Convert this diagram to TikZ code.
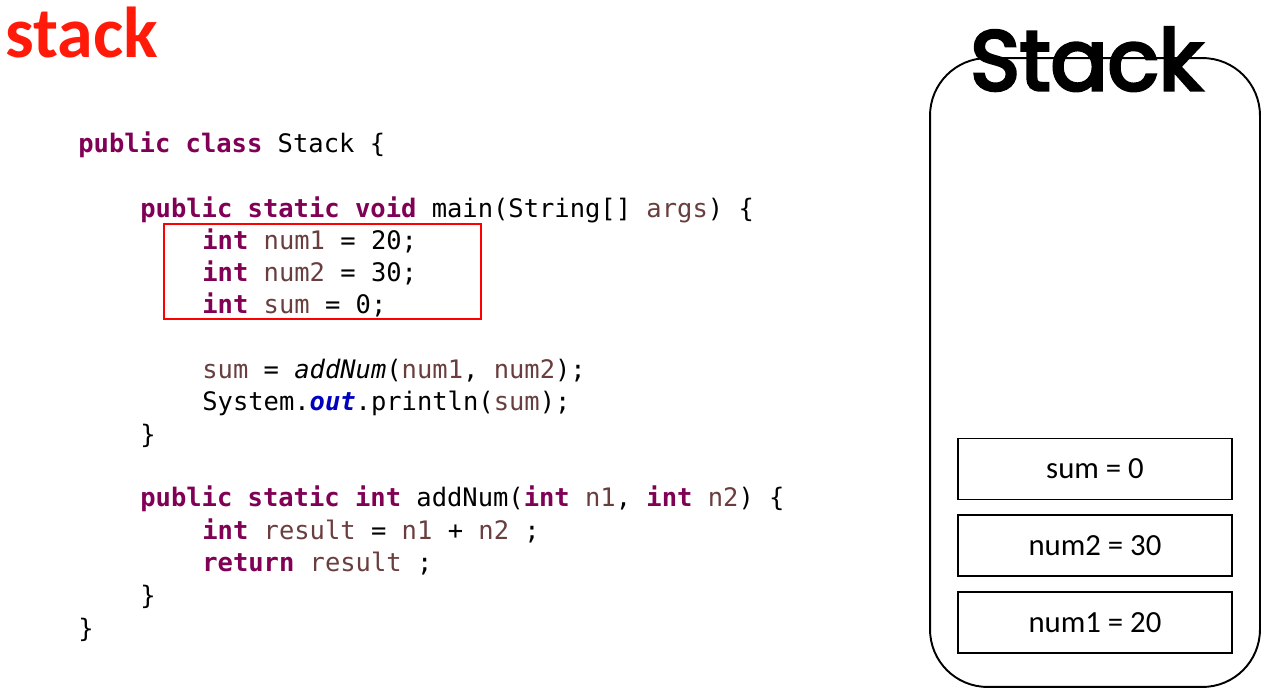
\documentclass[tikz,border=0pt]{standalone}
\usepackage{fontspec}
\setmonofont{DejaVu Sans Mono}
\newfontfamily\slotfont{Carlito}
\newfontfamily\stackfont[FakeBold=4]{Poppins}
\usetikzlibrary{positioning}
\definecolor{kwcolor}{HTML}{7F0055}
\definecolor{varcolor}{HTML}{6A3E3E}
\definecolor{fieldcolor}{HTML}{0000C0}
\definecolor{titlered}{HTML}{FF1A0A}
\newcommand{\kw}[1]{\textcolor{kwcolor}{\textbf{#1}}}
\newcommand{\vr}[1]{\textcolor{varcolor}{#1}}
\newcommand{\fld}[1]{\textcolor{fieldcolor}{\textbf{\textit{#1}}}}
\tikzset{
    stack diagram/.style = {x=0.02cm, y=-0.02cm},
    code line/.style     = {anchor=base west, inner sep=0pt,
                            font=\ttfamily\fontsize{14.5}{17}\selectfont},
    slot/.style          = {draw, line width=1pt, fill=white,
                            minimum width=5.48cm, minimum height=1.22cm,
                            font=\slotfont\fontsize{17.5}{20}\selectfont},
    frame/.style         = {draw, line width=1.1pt, rounded corners=1.15cm,
                            minimum width=6.6cm, minimum height=12.58cm},
    highlight/.style     = {draw=red, line width=1pt,
                            minimum width=6.34cm, minimum height=1.9cm},
    heading/.style       = {anchor=base west, inner sep=0pt}
}

\begin{document}
\begin{tikzpicture}[stack diagram]
\useasboundingbox (0,0) rectangle (1275,694);

\node[heading, text=titlered, font=\slotfont\bfseries\fontsize{41}{45}\selectfont]
    (title) at (5,57) {stack};

% code listing
\node[code line] (cls)     at (78,152)  {\kw{public} \kw{class} Stack \{};
\node[code line] (mainsig) at (140,217) {\kw{public} \kw{static} \kw{void} main(String[] \vr{args}) \{};
\node[code line] (decl1)   at (202,249) {\kw{int} \vr{num1} = 20;};
\node[code line] (decl2)   at (202,281) {\kw{int} \vr{num2} = 30;};
\node[code line] (decl3)   at (202,313) {\kw{int} \vr{sum} = 0;};
\node[code line] (call)    at (202,378) {\vr{sum} = \textit{addNum}(\vr{num1}, \vr{num2});};
\node[code line] (print)   at (202,410) {System.\fld{out}.println(\vr{sum});};
\node[code line] (mainend) at (140,443) {\}};
\node[code line] (addsig)  at (140,506) {\kw{public} \kw{static} \kw{int} addNum(\kw{int} \vr{n1}, \kw{int} \vr{n2}) \{};
\node[code line] (addbody) at (202,539) {\kw{int} \vr{result} = \vr{n1} + \vr{n2} ;};
\node[code line] (addret)  at (202,571) {\kw{return} \vr{result} ;};
\node[code line] (addend)  at (140,604) {\}};
\node[code line] (clsend)  at (78,637)  {\}};

\node[highlight] (declbox) at (322.5,271.5) {};

% stack frame
\node[frame] (frame) at (1095,372.5) {};
\node[heading, font=\stackfont\fontsize{48}{52}\selectfont]
    (stacktitle) at (970,90) {Stack};

\node[slot] (num1) at (1095,622.5) {num1 = 20};
\node[slot, above=0.28cm of num1] (num2) {num2 = 30};
\node[slot, above=0.28cm of num2] (sum)  {sum = 0};

\end{tikzpicture}
\end{document}
